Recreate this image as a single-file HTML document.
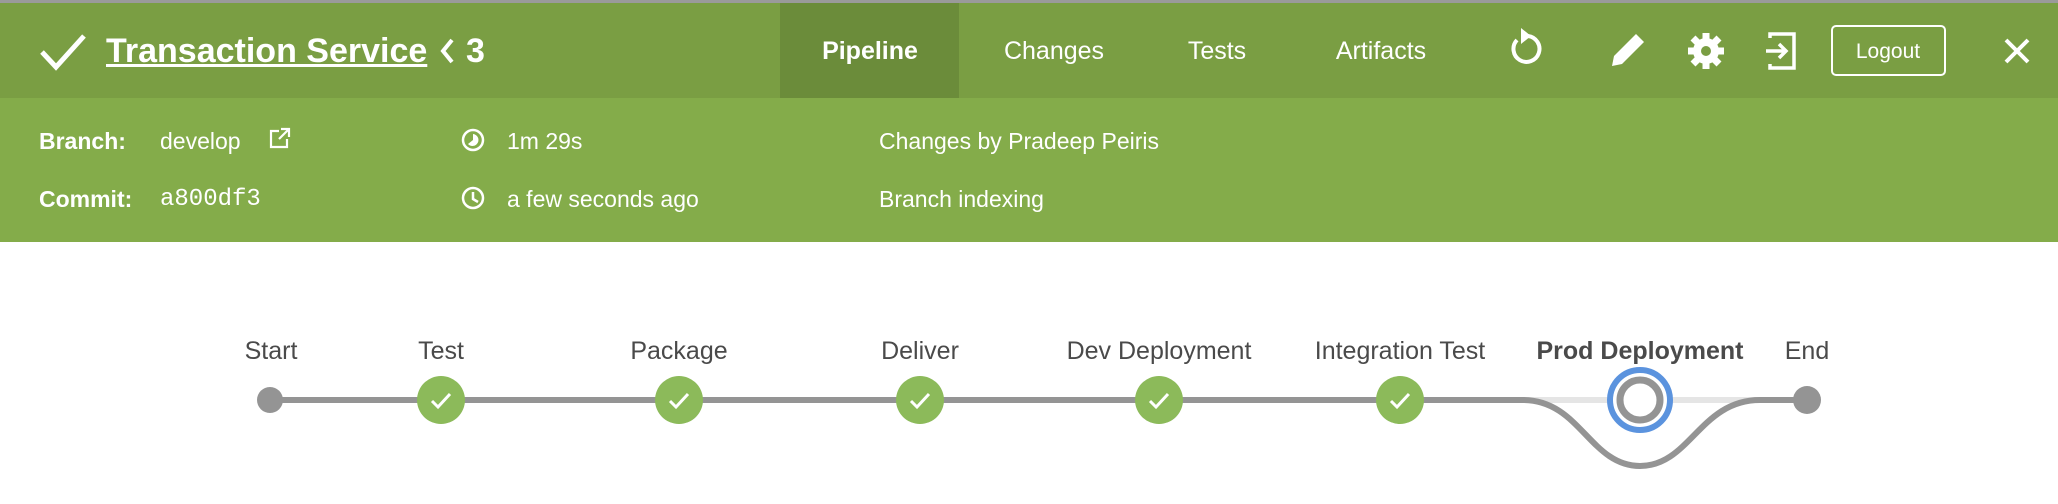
<!DOCTYPE html>
<html><head><meta charset="utf-8"><style>
*{margin:0;padding:0;box-sizing:border-box}
body{width:2058px;height:504px;background:#fff;font-family:"Liberation Sans",sans-serif;position:relative;overflow:hidden;color:#fff}
.top{position:absolute;left:0;top:0;width:2058px;height:98px;background:#7a9e43;border-top:3px solid #9a9a9a}
.sub{position:absolute;left:0;top:98px;width:2058px;height:144px;background:#84ac4a}
.t{position:absolute;white-space:nowrap;line-height:1}
</style></head><body>
<div class="top">
  <div style="position:absolute;left:780px;top:0;width:179px;height:95px;background:#6b8c3a"></div>
</div>
<div class="sub"></div>
<svg style="position:absolute;left:0;top:0" width="2058" height="504">
  <path d="M42 52 L56 67 L84 36" stroke="#fff" stroke-width="5" fill="none"/>
  <path d="M452 40 L443 51 L452 62" stroke="#fff" stroke-width="4" fill="none"/>
  <path d="M1517 40 A13 13 0 1 0 1528 36" stroke="#fff" stroke-width="4" fill="none"/>
  <path d="M1521 28 L1531 36 L1521 44 Z" fill="#fff"/>
  <path d="M1612 66 L1614 56 L1636 34 L1644 42 L1622 64 Z" fill="#fff"/>
  <circle cx="1706" cy="51" r="13" fill="#fff"/>
  <g stroke="#fff" stroke-width="7"><line x1="1706" y1="33" x2="1706" y2="69"/><line x1="1688" y1="51" x2="1724" y2="51"/><line x1="1693" y1="38" x2="1719" y2="64"/><line x1="1719" y1="38" x2="1693" y2="64"/></g>
  <circle cx="1706" cy="51" r="5" fill="#7a9e43"/>
  <path d="M1770 38 V34 H1794 V68 H1770 V64" stroke="#fff" stroke-width="3.5" fill="none"/>
  <path d="M1766 51 H1786 M1779 44 L1786 51 L1779 58" stroke="#fff" stroke-width="3.5" fill="none"/>
  <rect x="1832" y="26" width="113" height="49" rx="4" stroke="#fff" stroke-width="2" fill="none"/>
  <path d="M2006 40 L2028 62 M2028 40 L2006 62" stroke="#fff" stroke-width="4"/>
  <path d="M279 131 H271 V147 H287 V139 M281 129 H289 V137 M289 129 L279 139" stroke="#fff" stroke-width="2.2" fill="none"/>
  <circle cx="473" cy="140" r="10" stroke="#fff" stroke-width="2.5" fill="none"/>
  <path d="M473 134 A6 6 0 1 1 468 144 L473 140 Z" fill="#fff"/>
  <circle cx="473" cy="198" r="10" stroke="#fff" stroke-width="2.5" fill="none"/>
  <path d="M473 192 V199 L478 202" stroke="#fff" stroke-width="2.5" fill="none"/>
  <line x1="1523" y1="400" x2="1760" y2="400" stroke="#e5e5e5" stroke-width="6"/>
  <line x1="270" y1="400" x2="1523" y2="400" stroke="#949494" stroke-width="6"/>
  <line x1="1760" y1="400" x2="1807" y2="400" stroke="#949494" stroke-width="6"/>
  <path d="M1523 400 C1580 400 1590 466 1640 466 C1690 466 1700 400 1760 400" stroke="#949494" stroke-width="6" fill="none"/>
  <circle cx="270" cy="400" r="13" fill="#949494"/>
  <circle cx="1807" cy="400" r="14" fill="#949494"/>
  <g fill="#8cba5a">
    <circle cx="441" cy="400" r="24"/><circle cx="679" cy="400" r="24"/><circle cx="920" cy="400" r="24"/><circle cx="1159" cy="400" r="24"/><circle cx="1400" cy="400" r="24"/>
  </g>
  <g stroke="#fff" stroke-width="3" fill="none">
    <path d="M432 401 L438 407 L450 394"/><path d="M670 401 L676 407 L688 394"/><path d="M911 401 L917 407 L929 394"/><path d="M1150 401 L1156 407 L1168 394"/><path d="M1391 401 L1397 407 L1409 394"/>
  </g>
  <circle cx="1640" cy="400" r="30" fill="#fff" stroke="#5b93de" stroke-width="6"/>
  <circle cx="1640" cy="400" r="20" fill="#fff" stroke="#949494" stroke-width="7"/>
  <g font-family="Liberation Sans, sans-serif" font-size="25" fill="#4a4a4a" text-anchor="middle">
    <text x="271" y="359">Start</text><text x="441" y="359">Test</text><text x="679" y="359">Package</text><text x="920" y="359">Deliver</text><text x="1159" y="359">Dev Deployment</text><text x="1400" y="359">Integration Test</text>
    <text x="1640" y="359" font-weight="bold">Prod Deployment</text><text x="1807" y="359">End</text>
  </g>
</svg>
<div class="t" style="left:106px;top:34px;font-size:34px;font-weight:bold;text-decoration:underline">Transaction Service</div>
<div class="t" style="left:466px;top:34px;font-size:34px;font-weight:bold">3</div>
<div class="t" style="left:870px;top:39px;font-size:25px;font-weight:bold;transform:translateX(-50%)">Pipeline</div>
<div class="t" style="left:1054px;top:39px;font-size:25px;transform:translateX(-50%)">Changes</div>
<div class="t" style="left:1217px;top:39px;font-size:25px;transform:translateX(-50%)">Tests</div>
<div class="t" style="left:1381px;top:39px;font-size:25px;transform:translateX(-50%)">Artifacts</div>
<div class="t" style="left:1888px;top:41px;font-size:21px;transform:translateX(-50%)">Logout</div>
<div class="t" style="left:39px;top:130px;font-size:23px;font-weight:bold">Branch:</div>
<div class="t" style="left:160px;top:130px;font-size:23px">develop</div>
<div class="t" style="left:39px;top:188px;font-size:23px;font-weight:bold">Commit:</div>
<div class="t" style="left:160px;top:188px;font-size:24px;font-family:'Liberation Mono',monospace">a800df3</div>
<div class="t" style="left:507px;top:130px;font-size:23px">1m 29s</div>
<div class="t" style="left:507px;top:188px;font-size:23px">a few seconds ago</div>
<div class="t" style="left:879px;top:130px;font-size:23px">Changes by Pradeep Peiris</div>
<div class="t" style="left:879px;top:188px;font-size:23px">Branch indexing</div>
</body></html>
